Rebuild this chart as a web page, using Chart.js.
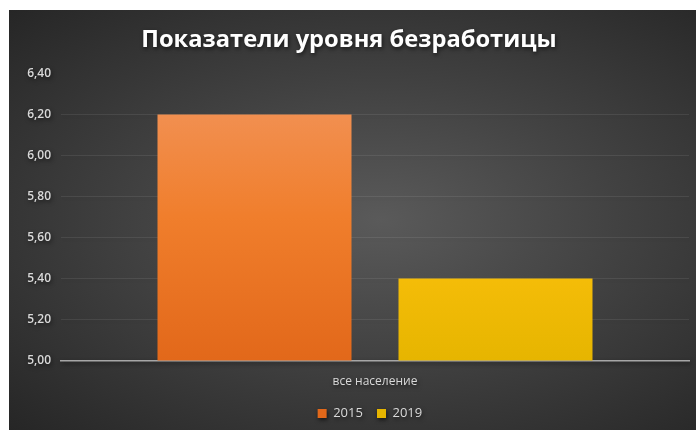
<!DOCTYPE html>
<html>
<head>
<meta charset="utf-8">
<script src="https://cdn.jsdelivr.net/npm/chart.js@4"></script>
<style>
    body {
        margin: 0;
        background: #ffffff;
    }

    #chart-box {
        position: absolute;
        left: 9px;
        top: 10px;
        width: 687px;
        height: 420px;
        background: radial-gradient(ellipse at 54% 50%, #5a5a5a 0%, #424242 45%, #262626 100%);
    }
</style>
</head>
<body>
<div id="chart-box">
    <canvas id="unemployment"></canvas>
</div>
<script>
let categories = ['все население'];
let seriesNames = ['2015', '2019'];
let values2015 = [6.20];
let values2019 = [5.40];
let tickMin = 5.00;
let tickMax = 6.40;
let tickStep = 0.20;


function makeGradient(chart, colorTop, colorMid, colorBottom) {
    let area = chart.chartArea;
    if (!area) {
        return colorMid;
    }
    let ctx = chart.ctx;
    let gradient = ctx.createLinearGradient(0, area.top, 0, area.bottom);
    gradient.addColorStop(0, colorTop);
    gradient.addColorStop(0.5, colorMid);
    gradient.addColorStop(1, colorBottom);
    return gradient;
}

// soft shadow under the title text, like the office chart
const titleShadow = {
    id: 'titleShadow',
    beforeDraw(chart) {
        chart.ctx.save();
        chart.ctx.shadowColor = 'rgba(0,0,0,0.6)';
        chart.ctx.shadowBlur = 4;
        chart.ctx.shadowOffsetX = 1;
        chart.ctx.shadowOffsetY = 2;
    },
    beforeDatasetsDraw(chart) {
        chart.ctx.restore();
    }
};

function legendItems(chart) {
    let items = Chart.defaults.plugins.legend.labels.generateLabels(chart);
    for (let i = 0; i < items.length; i++) {
        items[i].text = items[i].text + '   ';
    }
    return items;
}

function drawChart() {
    const ctx = document.getElementById('unemployment');

    new Chart(ctx, {
        type: 'bar',
        data: {
            labels: categories,
            datasets: [{
                label: seriesNames[0],
                data: values2015,
                backgroundColor: (c) => makeGradient(c.chart, '#f2965e', '#f07e2c', '#e2681a'),
                borderWidth: 0
            }, {
                label: seriesNames[1],
                data: values2019,
                backgroundColor: (c) => makeGradient(c.chart, '#ffcd45', '#ffc20e', '#e6b500'),
                borderWidth: 0
            }]
        },
        options: {
            responsive: true,
            maintainAspectRatio: false,
            animation: false,
            categoryPercentage: 0.7675,
            barPercentage: 0.805,
            layout: {
                padding: { top: 0, right: 7, bottom: 0, left: 0 }
            },
            plugins: {
                title: {
                    display: true,
                    text: 'Показатели уровня безработицы',
                    color: '#ffffff',
                    font: { family: 'Open Sans', size: 23.7, weight: 'bold' },
                    padding: { top: 16, bottom: 19 }
                },
                legend: {
                    position: 'bottom',
                    fullSize: false,
                    labels: {
                        color: '#d9d9d9',
                        font: { family: 'Open Sans', size: 13 },
                        boxWidth: 9,
                        boxHeight: 9,
                        padding: 4,
                        generateLabels: legendItems
                    }
                },
                tooltip: { enabled: false }
            },
            scales: {
                x: {
                    grid: { display: false, drawTicks: false },
                    border: { color: '#a6a6a6', width: 1.5 },
                    ticks: {
                        color: '#d9d9d9',
                        font: { family: 'Open Sans', size: 12 },
                        padding: 14
                    }
                },
                y: {
                    min: tickMin,
                    max: tickMax,
                    afterFit: (scale) => { scale.width = 52; },
                    grid: {
                        drawTicks: false,
                        color: (c) => c.tick.value >= tickMax - 0.001 ? 'rgba(0,0,0,0)' : 'rgba(255,255,255,0.08)'
                    },
                    border: { display: false },
                    ticks: {
                        stepSize: tickStep,
                        color: '#d9d9d9',
                        font: { family: 'Open Sans', size: 12, weight: '600' },
                        padding: 10,
                        callback: (value) => value.toFixed(2).replace('.', ',')
                    }
                }
            }
        },
        plugins: [titleShadow]
    });
}

drawChart();
</script>
</body>
</html>
